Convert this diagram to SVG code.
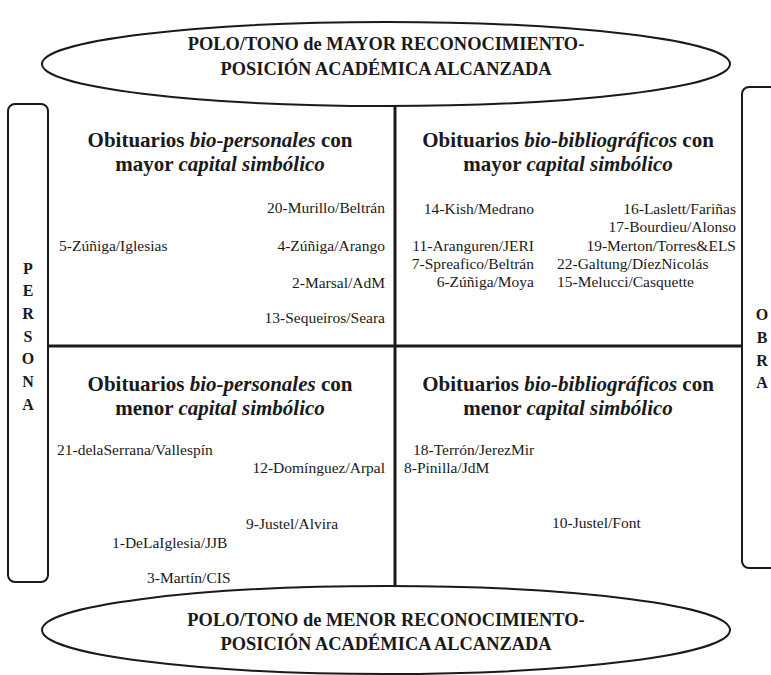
<svg xmlns="http://www.w3.org/2000/svg" width="771" height="675" viewBox="0 0 771 675">
<style>
.dg-ttl{font-family:"Liberation Serif",serif;fill:#1a1a1a;font-size:18.4px;font-weight:bold;text-anchor:middle}
.dg-quad{font-family:"Liberation Serif",serif;fill:#1a1a1a;font-size:21px;font-weight:bold;text-anchor:middle}
.dg-ent{font-family:"Liberation Serif",serif;fill:#1a1a1a;font-size:15.5px}
.dg-end{text-anchor:end}
.dg-let{font-family:"Liberation Serif",serif;fill:#1a1a1a;font-size:16px;font-weight:bold;text-anchor:middle}
.dg-ln{stroke:#1a1a1a;stroke-width:3;fill:none}
.dg-box{fill:#fff;stroke:#1a1a1a;stroke-width:2}
</style>
<rect width="771" height="675" fill="#fff"/>
<g id="connectors">
<line class="dg-ln" x1="395" y1="100" x2="395" y2="592"/>
<line class="dg-ln" x1="48" y1="346" x2="742" y2="346"/>
</g>
<g id="persona">
<rect class="dg-box" x="8" y="104" width="40" height="478" rx="7"/>
<text class="dg-let" x="28" y="274">P</text>
<text class="dg-let" x="28" y="296">E</text>
<text class="dg-let" x="28" y="319">R</text>
<text class="dg-let" x="28" y="342">S</text>
<text class="dg-let" x="28" y="364">O</text>
<text class="dg-let" x="28" y="387">N</text>
<text class="dg-let" x="28" y="410">A</text>
</g>
<g id="obra">
<rect class="dg-box" x="742" y="87" width="40" height="481" rx="7"/>
<text class="dg-let" x="762" y="320">O</text>
<text class="dg-let" x="762" y="343">B</text>
<text class="dg-let" x="762" y="366">R</text>
<text class="dg-let" x="762" y="388">A</text>
</g>
<g id="top-pole">
<ellipse class="dg-box" cx="386" cy="64" rx="344" ry="42"/>
<text class="dg-ttl" x="386" y="50">POLO/TONO de MAYOR RECONOCIMIENTO-</text>
<text class="dg-ttl" x="386" y="75">POSICIÓN ACADÉMICA ALCANZADA</text>
</g>
<g id="bottom-pole">
<ellipse class="dg-box" cx="386" cy="630" rx="344" ry="44"/>
<text class="dg-ttl" x="386" y="626">POLO/TONO de MENOR RECONOCIMIENTO-</text>
<text class="dg-ttl" x="386" y="650">POSICIÓN ACADÉMICA ALCANZADA</text>
</g>
<g id="q-top-left">
<text class="dg-quad" x="220" y="147">Obituarios <tspan font-style="italic">bio-personales</tspan> con</text>
<text class="dg-quad" x="220" y="171">mayor <tspan font-style="italic">capital simbólico</tspan></text>
<text class="dg-ent dg-end" x="385" y="213">20-Murillo/Beltrán</text>
<text class="dg-ent" x="59" y="251">5-Zúñiga/Iglesias</text>
<text class="dg-ent dg-end" x="385" y="251">4-Zúñiga/Arango</text>
<text class="dg-ent dg-end" x="385" y="288">2-Marsal/AdM</text>
<text class="dg-ent dg-end" x="385" y="323">13-Sequeiros/Seara</text>
</g>
<g id="q-top-right">
<text class="dg-quad" x="568" y="147">Obituarios <tspan font-style="italic">bio-bibliográficos</tspan> con</text>
<text class="dg-quad" x="568" y="171">mayor <tspan font-style="italic">capital simbólico</tspan></text>
<text class="dg-ent dg-end" x="534" y="214">14-Kish/Medrano</text>
<text class="dg-ent dg-end" x="534" y="251">11-Aranguren/JERI</text>
<text class="dg-ent dg-end" x="534" y="269">7-Spreafico/Beltrán</text>
<text class="dg-ent dg-end" x="534" y="287">6-Zúñiga/Moya</text>
<text class="dg-ent dg-end" x="736" y="214">16-Laslett/Fariñas</text>
<text class="dg-ent dg-end" x="736" y="232">17-Bourdieu/Alonso</text>
<text class="dg-ent dg-end" x="736" y="251">19-Merton/Torres&amp;ELS</text>
<text class="dg-ent" x="557" y="269">22-Galtung/DíezNicolás</text>
<text class="dg-ent" x="557" y="287">15-Melucci/Casquette</text>
</g>
<g id="q-bottom-left">
<text class="dg-quad" x="220" y="391">Obituarios <tspan font-style="italic">bio-personales</tspan> con</text>
<text class="dg-quad" x="220" y="415">menor <tspan font-style="italic">capital simbólico</tspan></text>
<text class="dg-ent" x="57" y="455">21-delaSerrana/Vallespín</text>
<text class="dg-ent dg-end" x="385" y="473">12-Domínguez/Arpal</text>
<text class="dg-ent" x="246" y="529">9-Justel/Alvira</text>
<text class="dg-ent" x="112" y="548">1-DeLaIglesia/JJB</text>
<text class="dg-ent" x="147" y="583">3-Martín/CIS</text>
</g>
<g id="q-bottom-right">
<text class="dg-quad" x="568" y="391">Obituarios <tspan font-style="italic">bio-bibliográficos</tspan> con</text>
<text class="dg-quad" x="568" y="415">menor <tspan font-style="italic">capital simbólico</tspan></text>
<text class="dg-ent" x="413" y="455">18-Terrón/JerezMir</text>
<text class="dg-ent" x="404" y="473">8-Pinilla/JdM</text>
<text class="dg-ent" x="552" y="528">10-Justel/Font</text>
</g>
</svg>
